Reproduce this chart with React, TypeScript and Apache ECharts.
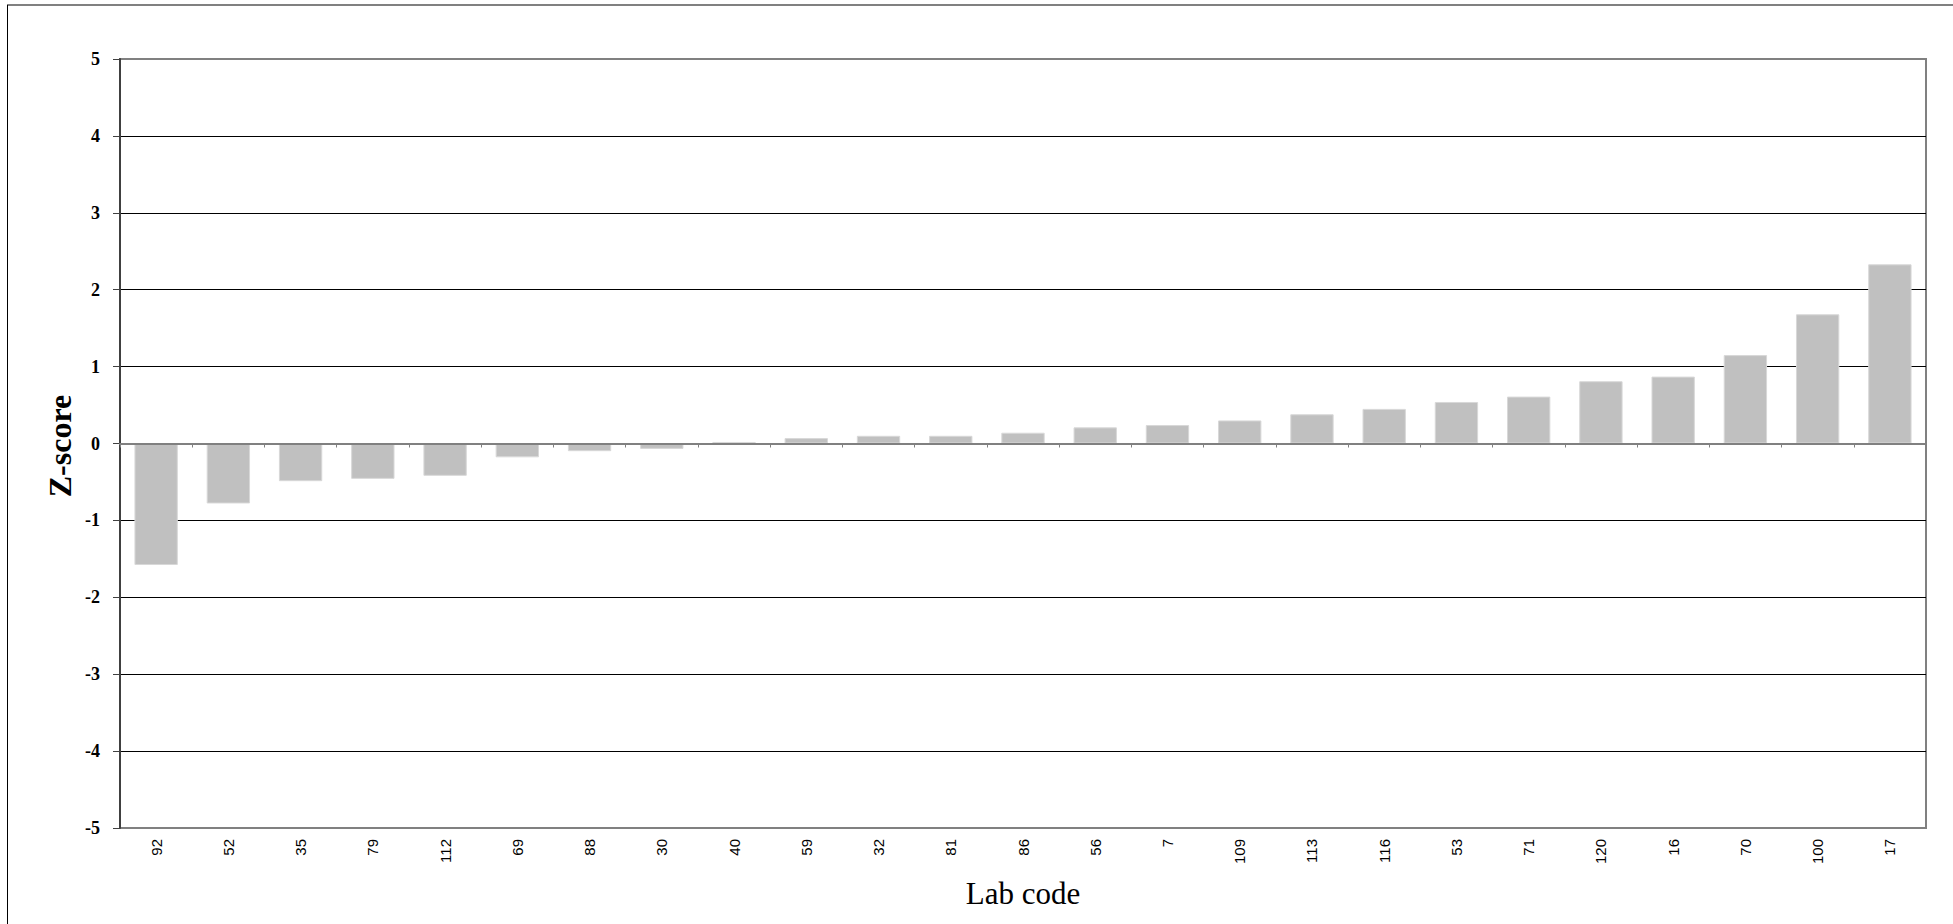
import React, { useEffect, useRef } from "react";
import * as echarts from "echarts";

const labCodes = ["92", "52", "35", "79", "112", "69", "88", "30", "40", "59", "32", "81", "86", "56", "7", "109", "113", "116", "53", "71", "120", "16", "70", "100", "17"];
const zScores = [-1.58, -0.78, -0.49, -0.46, -0.42, -0.18, -0.1, -0.07, 0.02, 0.07, 0.1, 0.1, 0.14, 0.21, 0.24, 0.3, 0.38, 0.45, 0.54, 0.61, 0.81, 0.87, 1.15, 1.68, 2.33];
const yMin = -5;
const yMax = 5;
const yStep = 1;
const yTitle = "Z-score";
const xTitle = "Lab code";

export default function App() {
  const ref = useRef<HTMLDivElement>(null);
  useEffect(() => {
    if (!ref.current) return;
    const chart = echarts.init(ref.current, null, { renderer: "svg" });
    const splitColors: string[] = [];
    for (let v = yMin; v <= yMax; v += yStep) {
      splitColors.push(v === yMin || v === yMax || v === 0 ? "#808080" : "#000000");
    }
    chart.setOption({
      animation: false,
      backgroundColor: "#ffffff",
      grid: {
        left: 120,
        right: 27,
        top: 59,
        bottom: 96,
        show: true,
        borderColor: "#808080",
        borderWidth: 2,
        backgroundColor: "#ffffff",
      },
      xAxis: [
        {
          type: "category",
          data: labCodes,
          position: "bottom",
          boundaryGap: true,
          z: 5,
          axisLine: { show: true, onZero: true, lineStyle: { color: "#808080", width: 2 } },
          axisTick: { show: true, inside: false, length: 4, lineStyle: { color: "#808080", width: 1 } },
          axisLabel: { show: false },
          splitLine: { show: false },
        },
        {
          type: "category",
          data: labCodes,
          position: "bottom",
          boundaryGap: true,
          axisLine: { show: false, onZero: false },
          axisTick: { show: false },
          axisLabel: {
            show: true,
            rotate: 90,
            margin: 11,
            interval: 0,
            color: "#000000",
            fontFamily: "'Liberation Sans', Arial, sans-serif",
            fontSize: 15,
          },
          splitLine: { show: false },
        },
      ],
      yAxis: {
        type: "value",
        min: yMin,
        max: yMax,
        interval: yStep,
        axisLine: { show: true, lineStyle: { color: "#404040", width: 2 } },
        axisTick: { show: true, inside: false, length: 7, lineStyle: { color: "#404040", width: 1 } },
        axisLabel: {
          margin: 20,
          color: "#000000",
          fontFamily: "'Liberation Serif', 'Times New Roman', serif",
          fontWeight: "bold",
          fontSize: 18,
        },
        splitLine: { show: true, lineStyle: { color: splitColors, width: 1 } },
      },
      series: [
        {
          type: "bar",
          xAxisIndex: 0,
          data: zScores,
          barCategoryGap: "40%",
          itemStyle: { color: "#c0c0c0", borderColor: "#d8d8d8", borderWidth: 1 },
        },
      ],
      graphic: [
        {
          type: "line",
          shape: { x1: 7, y1: 5, x2: 1953, y2: 5 },
          style: { stroke: "#808080", lineWidth: 2 },
        },
        {
          type: "line",
          shape: { x1: 7.5, y1: 5, x2: 7.5, y2: 924 },
          style: { stroke: "#000000", lineWidth: 1 },
        },
        {
          type: "text",
          x: 59.5,
          y: 446,
          rotation: Math.PI / 2,
          style: {
            text: yTitle,
            align: "center",
            verticalAlign: "middle",
            fill: "#000000",
            font: "bold 32px 'Liberation Serif', 'Times New Roman', serif",
          },
        },
        {
          type: "text",
          x: 1023,
          y: 893,
          style: {
            text: xTitle,
            align: "center",
            verticalAlign: "middle",
            fill: "#000000",
            font: "31px 'Liberation Serif', 'Times New Roman', serif",
          },
        },
      ],
    });
    return () => chart.dispose();
  }, []);
  return (
    <div
      ref={ref}
      style={{ position: "fixed", left: 0, top: 0, width: 1953, height: 924, background: "#fff" }}
    />
  );
}
